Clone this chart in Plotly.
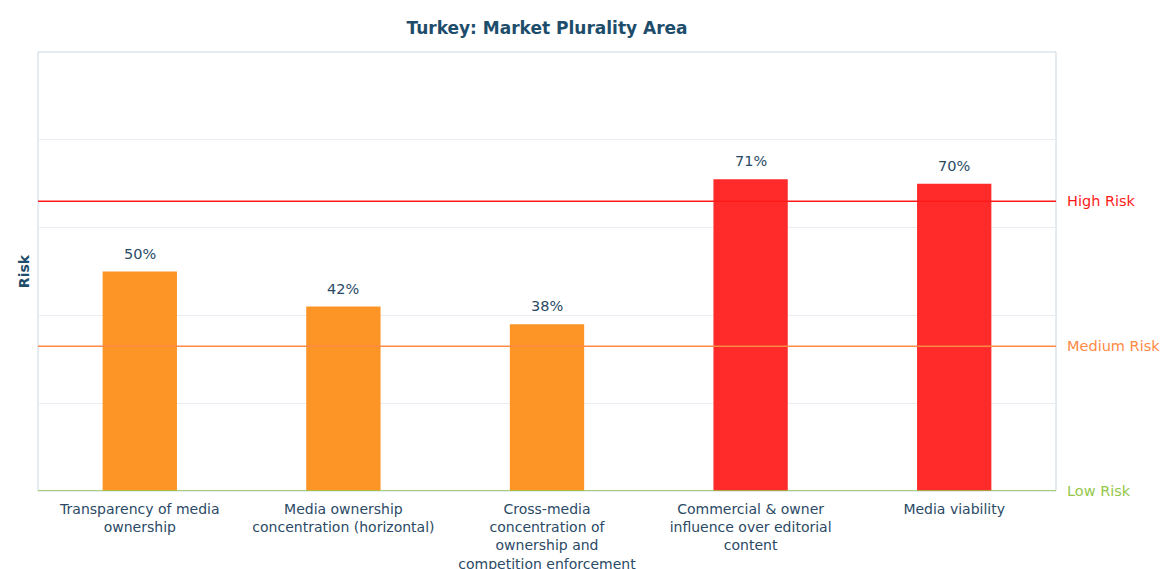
import plotly.graph_objects as go

categories = [
    "Transparency of media<br>ownership",
    "Media ownership<br>concentration (horizontal)",
    "Cross-media<br>concentration of<br>ownership and<br>competition enforcement",
    "Commercial & owner<br>influence over editorial<br>content",
    "Media viability",
]
values = [50, 42, 38, 71, 70]
bar_colors = ["#fd9426", "#fd9426", "#fd9426", "#ff2a2a", "#ff2a2a"]

risk_labels = ["High Risk", "Medium Risk", "Low Risk"]
risk_levels = [66, 33, 0]
risk_colors = ["#ff1a1a", "#ff8a45", "#95c84a"]

TEXT = "#2b4a66"
FONT = "DejaVu Sans"

fig = go.Figure()
fig.add_trace(go.Bar(
    x=categories, y=values, marker=dict(color=bar_colors, line=dict(width=0)),
    width=0.365, hoverinfo="skip",
))

shapes = [dict(type="rect", xref="paper", yref="paper", x0=0, x1=1, y0=0, y1=1,
               line=dict(color="#c9d8e4", width=1), layer="below")]
annotations = []
for lab, lev, col in zip(risk_labels, risk_levels, risk_colors):
    shapes.append(dict(type="line", xref="paper", yref="y", x0=0, x1=1, y0=lev, y1=lev,
                       line=dict(color=col, width=1.5), layer="above"))
    annotations.append(dict(xref="paper", yref="y", x=1.009, y=lev, text=lab, showarrow=False,
                            xanchor="left", yanchor="middle",
                            font=dict(family=FONT, size=14.5, color=col)))
for c, v in zip(categories, values):
    annotations.append(dict(x=c, y=v, text=f"{v}%", showarrow=False, yshift=18,
                            font=dict(family=FONT, size=14.5, color=TEXT)))

fig.update_layout(
    width=1161, height=569,
    margin=dict(l=38, r=105, t=52, b=78, autoexpand=False),
    paper_bgcolor="white", plot_bgcolor="white",
    title=dict(text="<b>Turkey: Market Plurality Area</b>", x=0.5, xanchor="center",
               xref="paper", y=0.951, yanchor="middle",
               font=dict(family=FONT, size=17, color="#1d4d6b")),
    showlegend=False,
    bargap=0.6,
    shapes=shapes,
    annotations=annotations,
    xaxis=dict(showgrid=False, ticks="", showline=False, zeroline=False, automargin=False,
               ticklabelstandoff=8,
               tickfont=dict(family=FONT, size=14, color=TEXT)),
    yaxis=dict(range=[0, 100], dtick=20, showgrid=True, gridcolor="#e7edf3", gridwidth=1,
               showticklabels=False, zeroline=False, showline=False, automargin=False,
               title=dict(text="<b>Risk</b>", standoff=4,
                          font=dict(family=FONT, size=14, color="#1d4d6b"))),
)

fig.write_html("out.html", config={"displayModeBar": False},
               post_script="document.body.style.margin='0px';")
